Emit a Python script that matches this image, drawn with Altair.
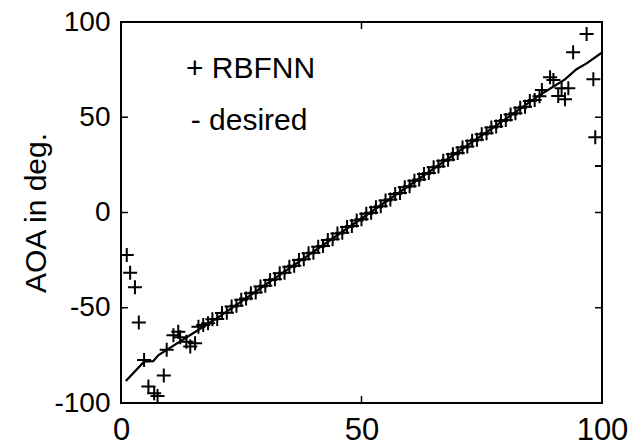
import altair as alt
import pandas as pd

FONT = "Liberation Sans, Arial, Helvetica, sans-serif"

# RBFNN output (x sample index, AOA in deg.)
rbf_x = [1.2, 1.9, 2.9, 3.7, 4.8, 5.7, 6.9, 7.6, 8.9,
         9.5, 10.9, 11.9, 12.3, 13.6, 14.4, 15.4, 16.1, 17.1, 18.1,
         19, 20, 21, 22, 23, 24, 25, 26, 27, 28, 29, 30, 31, 32, 33, 34, 35, 36, 37, 38,
         39, 40, 41, 42, 43, 44, 45, 46, 47, 48, 49, 50, 51, 52, 53, 54, 55, 56, 57, 58,
         59, 60, 61, 62, 63, 64, 65, 66, 67, 68, 69, 70, 71, 72, 73, 74, 75, 76, 77, 78,
         79, 80, 81, 82, 83, 84, 85, 86, 87,
         87.5, 89.2, 89.9, 90.9, 91.6, 92.3, 93.0, 94.0, 96.8, 98.2, 98.6, 100]
rbf_y = [-22.3, -31.6, -39.3, -57.8, -77.4, -91.4, -94.9, -96.3, -85.6,
         -72.0, -64.5, -62.6, -65.5, -67.8, -70.4, -68.7, -60.0, -59.0, -58.2,
         -56.0, -55.9, -52.8, -52.6, -49.3, -49.0, -45.8, -45.2, -42.4, -42.0, -38.9, -38.5,
         -35.4, -35.1, -31.9, -31.6, -28.5, -28.0, -24.9, -24.6, -21.4, -21.1, -18.0, -17.6,
         -14.5, -14.1, -11.0, -10.6, -7.6, -7.1, -4.2, -3.6, -0.7, -0.1, 2.8, 3.3, 6.3, 6.8,
         9.7, 10.3, 13.2, 13.8, 16.7, 17.3, 20.2, 20.7, 23.7, 24.2, 27.2, 27.7, 30.6, 31.2,
         34.1, 34.7, 37.6, 38.2, 41.1, 41.6, 44.6, 45.1, 48.0, 48.6, 51.5, 52.1, 55.0, 55.5,
         58.5, 59.0, 61.0,
         64.3, 71.0, 69.6, 61.2, 65.2, 59.4, 65.2, 84.1, 93.7, 69.9, 39.5, 24.4]

# desired AOA
des_x = [1, 4.8, 6.7, 7.8, 20, 40, 60, 80, 87.1, 92.3, 94.7, 96.8, 100]
des_y = [-88.5, -78.3, -78.0, -74.8, -55.4, -20.6, 14.3, 49.1, 61.7, 69.9, 75.2, 78.3, 84.0]

# annotation texts
note_x = [13.5, 14.5]
note_y = [70.6, 43.3]
note_text = ["+ RBFNN", "- desired"]

y_ticks = [-50, 0, 50]
x_ticks = [50]

W, H = 481, 381

xs = alt.Scale(domain=[0, 100], nice=False, zero=False)
ys = alt.Scale(domain=[-100, 100], nice=False, zero=False)

rbf = pd.DataFrame({"x": rbf_x, "y": rbf_y})
des = pd.DataFrame({"x": des_x, "y": des_y})
notes = pd.DataFrame({"x": note_x, "y": note_y, "t": note_text})
yt = pd.DataFrame({"y": y_ticks})
xt = pd.DataFrame({"x": x_ticks})

xaxis = alt.Axis(values=[0, 50, 100], labelFontSize=31, labelFont=FONT, labelColor="black",
                 labelBaseline="alphabetic", labelPadding=36, ticks=False, tickSize=0,
                 domain=False, grid=False, labelFlush=False, labelOverlap=False, title=None,
                 labelExpr="toString(datum.value)")
yaxis = alt.Axis(values=[-100, -50, 0, 50, 100], labelFontSize=28, labelFont=FONT,
                 labelColor="black", labelPadding=11, ticks=False, tickSize=0,
                 domain=False, grid=False, labelOverlap=False,
                 labelExpr="toString(datum.value)",
                 title="AOA in deg.", titleFontSize=30, titleFont=FONT, titleFontWeight="normal",
                 titleColor="black", titleAngle=270, titleBaseline="alphabetic",
                 titleAlign="center", titleX=-76, titleY=H / 2)

line = alt.Chart(des).mark_line(color="black", strokeWidth=2.2).encode(
    x=alt.X("x:Q", scale=xs, axis=xaxis),
    y=alt.Y("y:Q", scale=ys, axis=yaxis),
)

pts = alt.Chart(rbf).mark_point(
    shape="M-1,0H1M0,-1V1", size=196, stroke="black", strokeWidth=2, filled=False,
    opacity=1, clip=True,
).encode(x=alt.X("x:Q", scale=xs), y=alt.Y("y:Q", scale=ys))

txt = alt.Chart(notes).mark_text(
    align="left", baseline="alphabetic", fontSize=30, font=FONT, color="black"
).encode(x=alt.X("x:Q", scale=xs), y=alt.Y("y:Q", scale=ys), text="t:N")

lt = alt.Chart(yt).mark_rule(color="black", strokeWidth=1.5).encode(
    y=alt.Y("y:Q", scale=ys), x=alt.value(0), x2=alt.value(7))
rt = alt.Chart(yt).mark_rule(color="black", strokeWidth=1.5).encode(
    y=alt.Y("y:Q", scale=ys), x=alt.value(W - 7), x2=alt.value(W))
bt = alt.Chart(xt).mark_rule(color="black", strokeWidth=1.5).encode(
    x=alt.X("x:Q", scale=xs), y=alt.value(H), y2=alt.value(H - 7))
tt = alt.Chart(xt).mark_rule(color="black", strokeWidth=1.5).encode(
    x=alt.X("x:Q", scale=xs), y=alt.value(0), y2=alt.value(7))

chart = alt.layer(line, pts, txt, lt, rt, bt, tt).properties(
    width=W, height=H,
    autosize=alt.AutoSizeParams(type="none"),
    padding={"left": 121, "top": 22, "right": 37, "bottom": 43},
    background="white",
).configure_view(stroke="black", strokeWidth=2)

chart.save("out.html", embed_options={"renderer": "svg", "actions": False})
